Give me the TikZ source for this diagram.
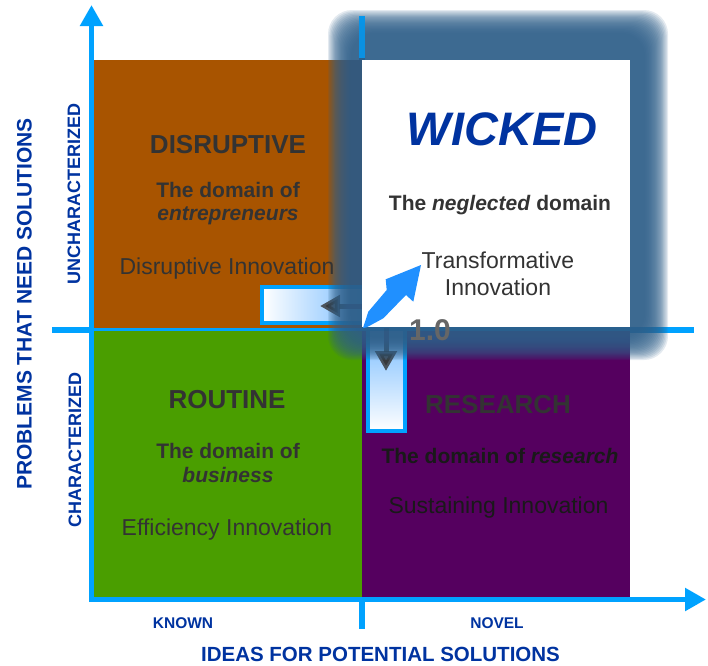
\documentclass[tikz,border=0pt]{standalone}
\usepackage{fontspec}
\setmainfont{Liberation Sans}
\usetikzlibrary{arrows.meta}

\definecolor{axisblue}{RGB}{0,162,255}
\definecolor{labelblue}{RGB}{0,51,160}
\definecolor{quadbrown}{RGB}{168,84,0}
\definecolor{quadgreen}{RGB}{74,158,0}
\definecolor{quadpurple}{RGB}{85,0,95}
\definecolor{glowblue}{RGB}{48,96,138}
\definecolor{textgray}{RGB}{51,51,51}
\definecolor{boxblue}{RGB}{120,188,255}
\definecolor{pointerblue}{RGB}{32,144,255}

\begin{document}
\begin{tikzpicture}[x=1pt,y=1pt,yscale=-1,xscale=1,
	quadtitle/.style={anchor=base, inner sep=0pt, text=textgray, font=\fontsize{26}{30}\selectfont\bfseries},
	domaintext/.style={anchor=base, inner sep=0pt, text=textgray, font=\fontsize{21}{25}\selectfont\bfseries},
	innov/.style={anchor=base, inner sep=0pt, text=textgray, font=\fontsize{23}{27}\selectfont},
	axislabel/.style={inner sep=0pt, text=labelblue},
	axisline/.style={draw=axisblue, line width=5.5pt, -{Triangle[width=22pt,length=21pt]}},
	midline/.style={draw=axisblue, line width=6pt},
	pointer/.style={draw=black!80, draw opacity=0.8, fill=black!80, fill opacity=0.8, line width=5pt, -{Triangle[width=21pt,length=20pt]}}]
	\useasboundingbox (0,0) rectangle (708,665);

	%Straight Lines (middle lines)
	\draw[midline]    (52,330) -- (694,330) ;
	\draw[midline]    (362,16) -- (362,629) ;

	%Shape: Rectangle (quadrants)
	\fill[quadbrown]  (94,60) rectangle (362,328) ;
	\fill[quadgreen]  (94,331) rectangle (362,597) ;
	\fill[quadpurple] (362,331) rectangle (630,597) ;

	%Straight Lines (axes)
	\draw[axisline]    (91.5,602) -- (91.5,5) ;
	\draw[axisline]    (89,599.5) -- (706,599.5) ;

	%Shape: Rectangle (shift boxes)
	\draw[axisblue, line width=4pt, left color=white, right color=boxblue]  (262,287) rectangle (364,323) ;
	\draw[axisblue, line width=4pt, top color=boxblue, bottom color=white]  (368,329) rectangle (405,431) ;

	\coordinate (origin) at (363,328) ;
	\coordinate (leftEnd) at (320,306) ;
	\coordinate (downEnd) at (386,371) ;
	\coordinate (pointerTip) at (421,265) ;

	%Straight Lines (pointers)
	\draw[pointer]    (origin |- leftEnd) -- (leftEnd) ;
	\draw[pointer]    (downEnd |- origin) -- (downEnd) ;

	%Shape: Rounded Rect (glow)
	\foreach \i in {0,...,19}
		\fill[glowblue, fill opacity=0.13, rounded corners=24pt]
			({328+1.2*\i},{10+1.2*\i}) rectangle ({668-1.2*\i},{360-1.2*\i}) ;
	\draw[axisblue, line width=6pt, opacity=0.75]    (362,16) -- (362,58) ;

	%Shape: Rectangle (wicked)
	\fill[white]  (362,60) rectangle (630,327) ;

	%Shape: Polygon (pointer arrow)
	\fill[pointerblue]  (origin) -- (368.3,311.7) -- (386.7,290) -- (385.7,279.3) -- (pointerTip)
		-- (413.3,301.7) -- (406,295) -- (383.3,318.3) -- (366.7,327.3) -- cycle ;

	% Text Node
	\node[quadtitle] (disTitle) at (228,153) {DISRUPTIVE};
	\node[domaintext] (disDomainA) at (228,197) {The domain of};
	\node[domaintext] (disDomainB) at (228,220) {\textit{entrepreneurs}};
	\node[innov] (disInnov) at (227,274) {Disruptive Innovation};
	% Text Node
	\node[quadtitle] (rouTitle) at (227,408) {ROUTINE};
	\node[domaintext] (rouDomainA) at (228,458) {The domain of};
	\node[domaintext] (rouDomainB) at (228,482) {\textit{business}};
	\node[innov] (rouInnov) at (227,535) {Efficiency Innovation};
	% Text Node
	\node[quadtitle] (resTitle) at (498,413) {RESEARCH};
	\node[domaintext, text=black!90] (resDomain) at (500,463) {The domain of \textit{research}};
	\node[innov, text=black!90] (resInnov) at (498.5,513) {Sustaining Innovation};
	% Text Node
	\node[anchor=base, inner sep=0pt, text=labelblue, font=\fontsize{47}{52}\selectfont\bfseries\itshape] (wicTitle) at (502,145) {WICKED};
	\node[domaintext] (wicDomain) at (500,210) {The \textit{neglected} domain};
	\node[innov] (wicInnovA) at (498,268) {Transformative};
	\node[innov] (wicInnovB) at (498,295) {Innovation};
	% Text Node
	\node[anchor=base west, inner sep=0pt, text=black!60, font=\fontsize{30}{34}\selectfont\bfseries] (version) at (409,340) {1.0};

	% Text Node (axis labels)
	\node[axislabel, rotate=90, font=\fontsize{21}{25}\selectfont\bfseries] (yAxisLbl) at (24.5,304) {PROBLEMS THAT NEED SOLUTIONS};
	\node[axislabel, rotate=90, font=\fontsize{18}{22}\selectfont\bfseries] (uncharLbl) at (74,194) {UNCHARACTERIZED};
	\node[axislabel, rotate=90, font=\fontsize{18}{22}\selectfont\bfseries] (charLbl) at (75,450) {CHARACTERIZED};
	\node[axislabel, anchor=base, font=\fontsize{15.5}{18}\selectfont\bfseries] (knownLbl) at (183,628) {KNOWN};
	\node[axislabel, anchor=base, font=\fontsize{15.5}{18}\selectfont\bfseries] (novelLbl) at (497,628) {NOVEL};
	\node[axislabel, anchor=base, font=\fontsize{20.5}{24}\selectfont\bfseries] (xAxisLbl) at (380.5,661) {IDEAS FOR POTENTIAL SOLUTIONS};

\end{tikzpicture}
\end{document}
